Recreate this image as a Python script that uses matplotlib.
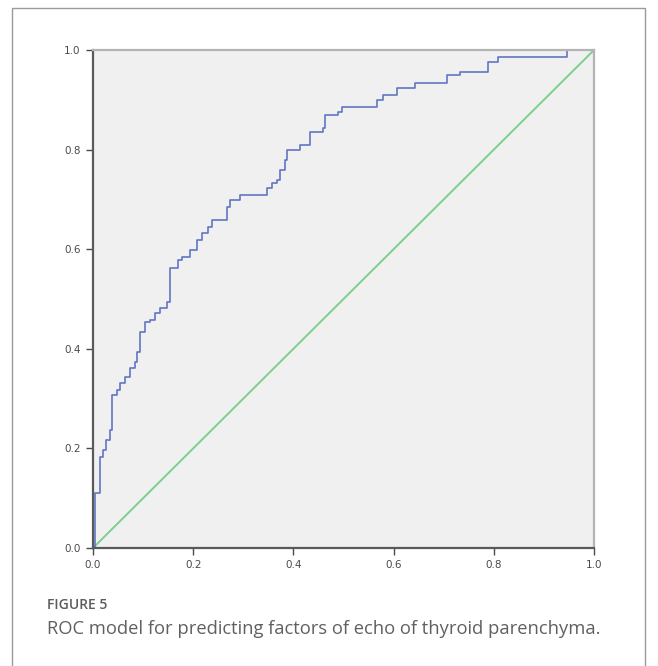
import matplotlib
matplotlib.use("Agg")
import matplotlib.pyplot as plt
from matplotlib.patches import Rectangle

# ROC corners: at each fpr the curve rises to tpr
fpr = [0.0, 0.004, 0.014, 0.020, 0.026, 0.034, 0.037, 0.047, 0.054, 0.064,
       0.074, 0.084, 0.088, 0.094, 0.104, 0.114, 0.124, 0.134, 0.148, 0.154,
       0.170, 0.178, 0.194, 0.208, 0.218, 0.230, 0.238, 0.267, 0.273, 0.293,
       0.347, 0.357, 0.367, 0.373, 0.383, 0.387, 0.413, 0.433, 0.459, 0.463,
       0.489, 0.497, 0.567, 0.579, 0.607, 0.643, 0.707, 0.733, 0.788, 0.808,
       0.946, 1.0]
tpr = [0.0, 0.110, 0.183, 0.197, 0.217, 0.237, 0.307, 0.317, 0.331, 0.343,
       0.361, 0.373, 0.394, 0.434, 0.454, 0.458, 0.472, 0.482, 0.494, 0.562,
       0.578, 0.584, 0.598, 0.618, 0.633, 0.645, 0.659, 0.685, 0.699, 0.709,
       0.723, 0.733, 0.739, 0.759, 0.779, 0.799, 0.809, 0.835, 0.843, 0.869,
       0.876, 0.886, 0.900, 0.910, 0.924, 0.934, 0.950, 0.956, 0.976, 0.986,
       1.0, 1.0]
ref_line = [0.0, 1.0]
ticks = [0.0, 0.2, 0.4, 0.6, 0.8, 1.0]
tick_labels = ["0.0", "0.2", "0.4", "0.6", "0.8", "1.0"]

W, H = 658, 666
fig = plt.figure(figsize=(W / 100, H / 100), dpi=100)

# outer frame of the figure panel (open at the bottom)
fig.patches.append(Rectangle((12 / W, -0.05), (645 - 12) / W, 1.05 - 8 / H,
                             transform=fig.transFigure, fill=False,
                             edgecolor="#9a9a9a", linewidth=1.0))

ax = fig.add_axes([93 / W, 1 - 548 / H, (594 - 93) / W, (548 - 50) / H])
ax.set_facecolor("#f0f0f0")

ax.plot(ref_line, ref_line, color="#7ccf8c", linewidth=1.4)
ax.plot(fpr, tpr, color="#6276c4", linewidth=1.2, drawstyle="steps-post")

ax.set_xlim(0, 1)
ax.set_ylim(0, 1)
ax.set_xticks(ticks)
ax.set_yticks(ticks)
ax.set_xticklabels(tick_labels)
ax.set_yticklabels(tick_labels)
ax.tick_params(direction="out", length=5, width=1, colors="#4a4a4a",
               labelsize=7.5, pad=4)

for side in ("left", "bottom"):
    ax.spines[side].set_color("#5a5a5a")
    ax.spines[side].set_linewidth(1.6)
for side in ("top", "right"):
    ax.spines[side].set_color("#b4b4b4")
    ax.spines[side].set_linewidth(1.6)

fig.text(47 / W, 1 - 605 / H, "FIGURE 5", family="Open Sans",
         fontweight="semibold", fontsize=10, color="#5c5c5c", va="center")
fig.text(47 / W, 1 - 629 / H,
         "ROC model for predicting factors of echo of thyroid parenchyma.",
         family="Open Sans", fontsize=13.2, color="#606060", va="center")

fig.savefig("out.png", dpi=100)
